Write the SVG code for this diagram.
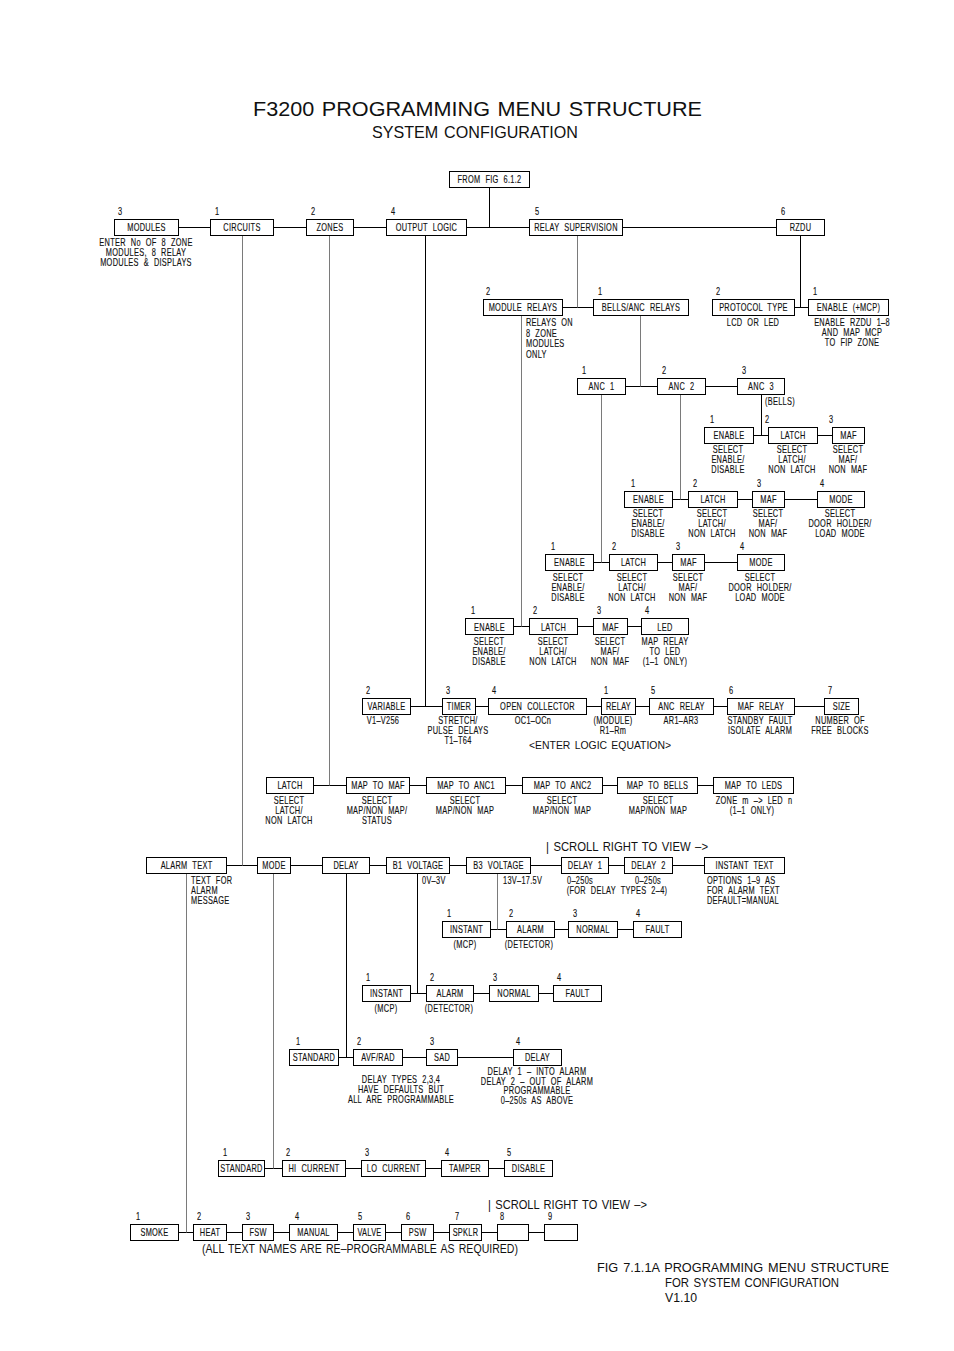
<svg xmlns="http://www.w3.org/2000/svg" width="954" height="1351" viewBox="0 0 954 1351">
<style>
text{font-family:'Liberation Sans',Arial,sans-serif;fill:#111;word-spacing:1.5px}
.b{fill:#fff;stroke:#000;stroke-width:1}
.c{fill:none;stroke:#000;stroke-width:1}
.g{fill:none;stroke:#7a7a7a;stroke-width:1}
.t,.d,.dl,.n{font-size:10px;letter-spacing:0.4px;word-spacing:3.5px;transform-box:fill-box;transform:scaleX(0.74);stroke:#111;stroke-width:0.15}
.t,.d{text-anchor:middle;transform-origin:center}
.dl,.n{transform-origin:left center}
.big{font-size:13px}
</style>
<rect width="954" height="1351" fill="#fff"/>
<g id="title">
<text x="253" y="116" font-size="21" fill="#222" textLength="449" lengthAdjust="spacingAndGlyphs">F3200 PROGRAMMING MENU STRUCTURE</text>
<text x="372" y="138" font-size="17" fill="#222" textLength="206" lengthAdjust="spacingAndGlyphs">SYSTEM CONFIGURATION</text>
</g>
<g id="connectors">
<path class="c" d="M178 227.5H776M489.5 187V227.5M425.5 235V706.5M800.5 235V307.5M794 307.5H808M562 307.5H593M625 386.5H657M705 386.5H737M761.5 394V435.5M753 435.5H768M817 435.5H832M672 499.5H688M737 499.5H752M784 499.5H817M593 562.5H609M657 562.5H672M704 562.5H737M513 626.5H529M577 626.5H593M627 626.5H641M410 706.5H824M313 785.5H713M226 865.5H704M490 929.5H633M410 993.5H553M338 1057.5H513M264 1168.5H504M178 1232.5H544M346.5 873V1057.5M417.5 873V993.5"/>
<path class="g" d="M242.5 235V865.5M329.5 235V785.5M577.5 235V307.5M521.5 315V626.5M640.5 315V386.5M601.5 394V562.5M680.5 394V499.5M186.5 873V1232.5M273.5 873V1168.5M497.5 873V929.5"/>
</g>
<g id="from_fig"><rect class="b" x="449.5" y="171.5" width="80" height="16"/><text class="t" x="489.5" y="183.5">FROM FIG 6.1.2</text></g>
<g id="modules"><rect class="b" x="114.5" y="219.5" width="64" height="16"/><text class="t" x="146.5" y="231.5">MODULES</text><text class="n" x="118" y="215">3</text>
<text class="d" x="146" y="246">ENTER No OF 8 ZONE</text><text class="d" x="146" y="256">MODULES, 8 RELAY</text><text class="d" x="146" y="266">MODULES &amp; DISPLAYS</text></g>
<g id="circuits"><rect class="b" x="210.5" y="219.5" width="63" height="16"/><text class="t" x="242" y="231.5">CIRCUITS</text><text class="n" x="215" y="215">1</text></g>
<g id="zones"><rect class="b" x="306.5" y="219.5" width="47" height="16"/><text class="t" x="330" y="231.5">ZONES</text><text class="n" x="311" y="215">2</text></g>
<g id="output_logic"><rect class="b" x="386.5" y="219.5" width="80" height="16"/><text class="t" x="426.5" y="231.5">OUTPUT LOGIC</text><text class="n" x="391" y="215">4</text></g>
<g id="relay_supervision"><rect class="b" x="529.5" y="219.5" width="93" height="16"/><text class="t" x="576" y="231.5">RELAY SUPERVISION</text><text class="n" x="535" y="215">5</text></g>
<g id="rzdu"><rect class="b" x="776.5" y="219.5" width="48" height="16"/><text class="t" x="800.5" y="231.5">RZDU</text><text class="n" x="781" y="215">6</text></g>

<g id="module_relays"><rect class="b" x="483.5" y="299.5" width="79" height="16"/><text class="t" x="523" y="311.5">MODULE RELAYS</text><text class="n" x="486" y="295">2</text>
<text class="dl" x="526" y="326">RELAYS ON</text><text class="dl" x="526" y="337">8 ZONE</text><text class="dl" x="526" y="347">MODULES</text><text class="dl" x="526" y="358">ONLY</text></g>
<g id="bells_anc_relays"><rect class="b" x="593.5" y="299.5" width="95" height="16"/><text class="t" x="641" y="311.5">BELLS/ANC RELAYS</text><text class="n" x="598" y="295">1</text></g>
<g id="protocol_type"><rect class="b" x="712.5" y="299.5" width="82" height="16"/><text class="t" x="753.5" y="311.5">PROTOCOL TYPE</text><text class="n" x="716" y="295">2</text><text class="d" x="753" y="326">LCD OR LED</text></g>
<g id="enable_mcp"><rect class="b" x="808.5" y="299.5" width="80" height="16"/><text class="t" x="848.5" y="311.5">ENABLE (+MCP)</text><text class="n" x="813" y="295">1</text>
<text class="d" x="852" y="326">ENABLE RZDU 1–8</text><text class="d" x="852" y="336">AND MAP MCP</text><text class="d" x="852" y="346">TO FIP ZONE</text></g>

<g id="anc1"><rect class="b" x="577.5" y="378.5" width="48" height="16"/><text class="t" x="601.5" y="390.5">ANC 1</text><text class="n" x="582" y="374">1</text></g>
<g id="anc2"><rect class="b" x="657.5" y="378.5" width="48" height="16"/><text class="t" x="681.5" y="390.5">ANC 2</text><text class="n" x="662" y="374">2</text></g>
<g id="anc3"><rect class="b" x="737.5" y="378.5" width="47" height="16"/><text class="t" x="761" y="390.5">ANC 3</text><text class="n" x="742" y="374">3</text><text class="dl" x="765" y="405">(BELLS)</text></g>

<g id="a3_enable"><rect class="b" x="704.5" y="427.5" width="49" height="16"/><text class="t" x="729" y="439.5">ENABLE</text><text class="n" x="710" y="423">1</text>
<text class="d" x="728" y="453">SELECT</text><text class="d" x="728" y="463">ENABLE/</text><text class="d" x="728" y="473">DISABLE</text></g>
<g id="a3_latch"><rect class="b" x="768.5" y="427.5" width="49" height="16"/><text class="t" x="793" y="439.5">LATCH</text><text class="n" x="765" y="423">2</text>
<text class="d" x="792" y="453">SELECT</text><text class="d" x="792" y="463">LATCH/</text><text class="d" x="792" y="473">NON LATCH</text></g>
<g id="a3_maf"><rect class="b" x="832.5" y="427.5" width="32" height="16"/><text class="t" x="848.5" y="439.5">MAF</text><text class="n" x="829" y="423">3</text>
<text class="d" x="848" y="453">SELECT</text><text class="d" x="848" y="463">MAF/</text><text class="d" x="848" y="473">NON MAF</text></g>

<g id="a2_enable"><rect class="b" x="624.5" y="491.5" width="48" height="16"/><text class="t" x="648.5" y="503.5">ENABLE</text><text class="n" x="631" y="487">1</text>
<text class="d" x="648" y="517">SELECT</text><text class="d" x="648" y="527">ENABLE/</text><text class="d" x="648" y="537">DISABLE</text></g>
<g id="a2_latch"><rect class="b" x="688.5" y="491.5" width="49" height="16"/><text class="t" x="713" y="503.5">LATCH</text><text class="n" x="693" y="487">2</text>
<text class="d" x="712" y="517">SELECT</text><text class="d" x="712" y="527">LATCH/</text><text class="d" x="712" y="537">NON LATCH</text></g>
<g id="a2_maf"><rect class="b" x="752.5" y="491.5" width="32" height="16"/><text class="t" x="768.5" y="503.5">MAF</text><text class="n" x="757" y="487">3</text>
<text class="d" x="768" y="517">SELECT</text><text class="d" x="768" y="527">MAF/</text><text class="d" x="768" y="537">NON MAF</text></g>
<g id="a2_mode"><rect class="b" x="817.5" y="491.5" width="47" height="16"/><text class="t" x="841" y="503.5">MODE</text><text class="n" x="820" y="487">4</text>
<text class="d" x="840" y="517">SELECT</text><text class="d" x="840" y="527">DOOR HOLDER/</text><text class="d" x="840" y="537">LOAD MODE</text></g>

<g id="a1_enable"><rect class="b" x="545.5" y="554.5" width="48" height="16"/><text class="t" x="569.5" y="566.5">ENABLE</text><text class="n" x="551" y="550">1</text>
<text class="d" x="568" y="581">SELECT</text><text class="d" x="568" y="591">ENABLE/</text><text class="d" x="568" y="601">DISABLE</text></g>
<g id="a1_latch"><rect class="b" x="609.5" y="554.5" width="48" height="16"/><text class="t" x="633.5" y="566.5">LATCH</text><text class="n" x="612" y="550">2</text>
<text class="d" x="632" y="581">SELECT</text><text class="d" x="632" y="591">LATCH/</text><text class="d" x="632" y="601">NON LATCH</text></g>
<g id="a1_maf"><rect class="b" x="672.5" y="554.5" width="32" height="16"/><text class="t" x="688.5" y="566.5">MAF</text><text class="n" x="676" y="550">3</text>
<text class="d" x="688" y="581">SELECT</text><text class="d" x="688" y="591">MAF/</text><text class="d" x="688" y="601">NON MAF</text></g>
<g id="a1_mode"><rect class="b" x="737.5" y="554.5" width="47" height="16"/><text class="t" x="761" y="566.5">MODE</text><text class="n" x="740" y="550">4</text>
<text class="d" x="760" y="581">SELECT</text><text class="d" x="760" y="591">DOOR HOLDER/</text><text class="d" x="760" y="601">LOAD MODE</text></g>

<g id="mr_enable"><rect class="b" x="465.5" y="618.5" width="48" height="16"/><text class="t" x="489.5" y="630.5">ENABLE</text><text class="n" x="471" y="614">1</text>
<text class="d" x="489" y="645">SELECT</text><text class="d" x="489" y="655">ENABLE/</text><text class="d" x="489" y="665">DISABLE</text></g>
<g id="mr_latch"><rect class="b" x="529.5" y="618.5" width="48" height="16"/><text class="t" x="553.5" y="630.5">LATCH</text><text class="n" x="533" y="614">2</text>
<text class="d" x="553" y="645">SELECT</text><text class="d" x="553" y="655">LATCH/</text><text class="d" x="553" y="665">NON LATCH</text></g>
<g id="mr_maf"><rect class="b" x="593.5" y="618.5" width="34" height="16"/><text class="t" x="610.5" y="630.5">MAF</text><text class="n" x="597" y="614">3</text>
<text class="d" x="610" y="645">SELECT</text><text class="d" x="610" y="655">MAF/</text><text class="d" x="610" y="665">NON MAF</text></g>
<g id="mr_led"><rect class="b" x="641.5" y="618.5" width="47" height="16"/><text class="t" x="665" y="630.5">LED</text><text class="n" x="645" y="614">4</text>
<text class="d" x="665" y="645">MAP RELAY</text><text class="d" x="665" y="655">TO LED</text><text class="d" x="665" y="665">(1–1 ONLY)</text></g>

<g id="variable"><rect class="b" x="362.5" y="698.5" width="48" height="16"/><text class="t" x="386.5" y="710.5">VARIABLE</text><text class="n" x="366" y="694">2</text><text class="d" x="383" y="724">V1–V256</text></g>
<g id="timer"><rect class="b" x="442.5" y="698.5" width="33" height="16"/><text class="t" x="459" y="710.5">TIMER</text><text class="n" x="446" y="694">3</text>
<text class="d" x="458" y="724">STRETCH/</text><text class="d" x="458" y="734">PULSE DELAYS</text><text class="d" x="458" y="744">T1–T64</text></g>
<g id="open_collector"><rect class="b" x="488.5" y="698.5" width="98" height="16"/><text class="t" x="537.5" y="710.5">OPEN COLLECTOR</text><text class="n" x="492" y="694">4</text><text class="d" x="533" y="724">OC1–OCn</text></g>
<g id="relay"><rect class="b" x="601.5" y="698.5" width="34" height="16"/><text class="t" x="618.5" y="710.5">RELAY</text><text class="n" x="604" y="694">1</text>
<text class="d" x="613" y="724">(MODULE)</text><text class="d" x="613" y="734">R1–Rm</text></g>
<g id="anc_relay"><rect class="b" x="649.5" y="698.5" width="64" height="16"/><text class="t" x="681.5" y="710.5">ANC RELAY</text><text class="n" x="651" y="694">5</text><text class="d" x="681" y="724">AR1–AR3</text></g>
<g id="maf_relay"><rect class="b" x="727.5" y="698.5" width="67" height="16"/><text class="t" x="761" y="710.5">MAF RELAY</text><text class="n" x="729" y="694">6</text>
<text class="d" x="760" y="724">STANDBY FAULT</text><text class="d" x="760" y="734">ISOLATE ALARM</text></g>
<g id="size"><rect class="b" x="824.5" y="698.5" width="34" height="16"/><text class="t" x="841.5" y="710.5">SIZE</text><text class="n" x="828" y="694">7</text>
<text class="d" x="840" y="724">NUMBER OF</text><text class="d" x="840" y="734">FREE BLOCKS</text></g>
<text x="529" y="749" font-size="11" textLength="142" lengthAdjust="spacingAndGlyphs">&lt;ENTER LOGIC EQUATION&gt;</text>

<g id="z_latch"><rect class="b" x="266.5" y="777.5" width="47" height="16"/><text class="t" x="290" y="789.5">LATCH</text>
<text class="d" x="289" y="804">SELECT</text><text class="d" x="289" y="814">LATCH/</text><text class="d" x="289" y="824">NON LATCH</text></g>
<g id="map_to_maf"><rect class="b" x="346.5" y="777.5" width="63" height="16"/><text class="t" x="378" y="789.5">MAP TO MAF</text>
<text class="d" x="377" y="804">SELECT</text><text class="d" x="377" y="814">MAP/NON MAP/</text><text class="d" x="377" y="824">STATUS</text></g>
<g id="map_to_anc1"><rect class="b" x="426.5" y="777.5" width="79" height="16"/><text class="t" x="466" y="789.5">MAP TO ANC1</text>
<text class="d" x="465" y="804">SELECT</text><text class="d" x="465" y="814">MAP/NON MAP</text></g>
<g id="map_to_anc2"><rect class="b" x="522.5" y="777.5" width="80" height="16"/><text class="t" x="562.5" y="789.5">MAP TO ANC2</text>
<text class="d" x="562" y="804">SELECT</text><text class="d" x="562" y="814">MAP/NON MAP</text></g>
<g id="map_to_bells"><rect class="b" x="617.5" y="777.5" width="80" height="16"/><text class="t" x="657.5" y="789.5">MAP TO BELLS</text>
<text class="d" x="658" y="804">SELECT</text><text class="d" x="658" y="814">MAP/NON MAP</text></g>
<g id="map_to_leds"><rect class="b" x="713.5" y="777.5" width="80" height="16"/><text class="t" x="753.5" y="789.5">MAP TO LEDS</text>
<text class="d" x="754" y="804">ZONE m –&gt; LED n</text><text class="d" x="752" y="814">(1–1 ONLY)</text></g>

<text class="big" x="546" y="851" textLength="162" lengthAdjust="spacingAndGlyphs">| SCROLL RIGHT TO VIEW –&gt;</text>
<g id="alarm_text"><rect class="b" x="146.5" y="857.5" width="80" height="16"/><text class="t" x="186.5" y="869.5">ALARM TEXT</text>
<text class="dl" x="191" y="884">TEXT FOR</text><text class="dl" x="191" y="894">ALARM</text><text class="dl" x="191" y="904">MESSAGE</text></g>
<g id="mode"><rect class="b" x="257.5" y="857.5" width="33" height="16"/><text class="t" x="274" y="869.5">MODE</text></g>
<g id="delay"><rect class="b" x="322.5" y="857.5" width="47" height="16"/><text class="t" x="346" y="869.5">DELAY</text></g>
<g id="b1_voltage"><rect class="b" x="386.5" y="857.5" width="63" height="16"/><text class="t" x="418" y="869.5">B1 VOLTAGE</text><text class="dl" x="422" y="884">0V–3V</text></g>
<g id="b3_voltage"><rect class="b" x="466.5" y="857.5" width="64" height="16"/><text class="t" x="498.5" y="869.5">B3 VOLTAGE</text><text class="dl" x="503" y="884">13V–17.5V</text></g>
<g id="delay1"><rect class="b" x="561.5" y="857.5" width="47" height="16"/><text class="t" x="585" y="869.5">DELAY 1</text><text class="d" x="580" y="884">0–250s</text></g>
<g id="delay2"><rect class="b" x="624.5" y="857.5" width="48" height="16"/><text class="t" x="648.5" y="869.5">DELAY 2</text><text class="d" x="648" y="884">0–250s</text></g>
<text class="d" x="617" y="894">(FOR DELAY TYPES 2–4)</text>
<g id="instant_text"><rect class="b" x="704.5" y="857.5" width="80" height="16"/><text class="t" x="744.5" y="869.5">INSTANT TEXT</text>
<text class="dl" x="707" y="884">OPTIONS 1–9 AS</text><text class="dl" x="707" y="894">FOR ALARM TEXT</text><text class="dl" x="707" y="904">DEFAULT=MANUAL</text></g>

<g id="b3_instant"><rect class="b" x="442.5" y="921.5" width="48" height="16"/><text class="t" x="466.5" y="933.5">INSTANT</text><text class="n" x="447" y="917">1</text><text class="d" x="465" y="948">(MCP)</text></g>
<g id="b3_alarm"><rect class="b" x="506.5" y="921.5" width="48" height="16"/><text class="t" x="530.5" y="933.5">ALARM</text><text class="n" x="509" y="917">2</text><text class="d" x="529" y="948">(DETECTOR)</text></g>
<g id="b3_normal"><rect class="b" x="568.5" y="921.5" width="49" height="16"/><text class="t" x="593" y="933.5">NORMAL</text><text class="n" x="573" y="917">3</text></g>
<g id="b3_fault"><rect class="b" x="633.5" y="921.5" width="48" height="16"/><text class="t" x="657.5" y="933.5">FAULT</text><text class="n" x="636" y="917">4</text></g>

<g id="b1_instant"><rect class="b" x="362.5" y="985.5" width="48" height="16"/><text class="t" x="386.5" y="997.5">INSTANT</text><text class="n" x="366" y="981">1</text><text class="d" x="386" y="1012">(MCP)</text></g>
<g id="b1_alarm"><rect class="b" x="426.5" y="985.5" width="47" height="16"/><text class="t" x="450" y="997.5">ALARM</text><text class="n" x="430" y="981">2</text><text class="d" x="449" y="1012">(DETECTOR)</text></g>
<g id="b1_normal"><rect class="b" x="489.5" y="985.5" width="49" height="16"/><text class="t" x="514" y="997.5">NORMAL</text><text class="n" x="493" y="981">3</text></g>
<g id="b1_fault"><rect class="b" x="553.5" y="985.5" width="48" height="16"/><text class="t" x="577.5" y="997.5">FAULT</text><text class="n" x="557" y="981">4</text></g>

<g id="d_standard"><rect class="b" x="289.5" y="1049.5" width="49" height="16"/><text class="t" x="314" y="1061.5">STANDARD</text><text class="n" x="296" y="1045">1</text></g>
<g id="d_avf_rad"><rect class="b" x="353.5" y="1049.5" width="49" height="16"/><text class="t" x="378" y="1061.5">AVF/RAD</text><text class="n" x="357" y="1045">2</text></g>
<g id="d_sad"><rect class="b" x="426.5" y="1049.5" width="31" height="16"/><text class="t" x="442" y="1061.5">SAD</text><text class="n" x="430" y="1045">3</text></g>
<g id="d_delay"><rect class="b" x="513.5" y="1049.5" width="48" height="16"/><text class="t" x="537.5" y="1061.5">DELAY</text><text class="n" x="516" y="1045">4</text>
<text class="d" x="537" y="1075">DELAY 1 – INTO ALARM</text><text class="d" x="537" y="1085">DELAY 2 – OUT OF ALARM</text><text class="d" x="537" y="1094">PROGRAMMABLE</text><text class="d" x="537" y="1104">0–250s AS ABOVE</text></g>
<text class="d" x="401" y="1083">DELAY TYPES 2,3,4</text><text class="d" x="401" y="1093">HAVE DEFAULTS BUT</text><text class="d" x="401" y="1103">ALL ARE PROGRAMMABLE</text>

<g id="m_standard"><rect class="b" x="218.5" y="1160.5" width="46" height="16"/><text class="t" x="241.5" y="1172.5">STANDARD</text><text class="n" x="223" y="1156">1</text></g>
<g id="m_hi_current"><rect class="b" x="282.5" y="1160.5" width="63" height="16"/><text class="t" x="314" y="1172.5">HI CURRENT</text><text class="n" x="286" y="1156">2</text></g>
<g id="m_lo_current"><rect class="b" x="361.5" y="1160.5" width="64" height="16"/><text class="t" x="393.5" y="1172.5">LO CURRENT</text><text class="n" x="365" y="1156">3</text></g>
<g id="m_tamper"><rect class="b" x="441.5" y="1160.5" width="47" height="16"/><text class="t" x="465" y="1172.5">TAMPER</text><text class="n" x="445" y="1156">4</text></g>
<g id="m_disable"><rect class="b" x="504.5" y="1160.5" width="48" height="16"/><text class="t" x="528.5" y="1172.5">DISABLE</text><text class="n" x="507" y="1156">5</text></g>

<text class="big" x="488" y="1209" textLength="159" lengthAdjust="spacingAndGlyphs">| SCROLL RIGHT TO VIEW –&gt;</text>
<g id="t_smoke"><rect class="b" x="130.5" y="1224.5" width="48" height="16"/><text class="t" x="154.5" y="1236.5">SMOKE</text><text class="n" x="136" y="1220">1</text></g>
<g id="t_heat"><rect class="b" x="193.5" y="1224.5" width="33" height="16"/><text class="t" x="210" y="1236.5">HEAT</text><text class="n" x="197" y="1220">2</text></g>
<g id="t_fsw"><rect class="b" x="242.5" y="1224.5" width="31" height="16"/><text class="t" x="258" y="1236.5">FSW</text><text class="n" x="246" y="1220">3</text></g>
<g id="t_manual"><rect class="b" x="289.5" y="1224.5" width="48" height="16"/><text class="t" x="313.5" y="1236.5">MANUAL</text><text class="n" x="295" y="1220">4</text></g>
<g id="t_valve"><rect class="b" x="353.5" y="1224.5" width="32" height="16"/><text class="t" x="369.5" y="1236.5">VALVE</text><text class="n" x="358" y="1220">5</text></g>
<g id="t_psw"><rect class="b" x="401.5" y="1224.5" width="32" height="16"/><text class="t" x="417.5" y="1236.5">PSW</text><text class="n" x="406" y="1220">6</text></g>
<g id="t_spklr"><rect class="b" x="449.5" y="1224.5" width="32" height="16"/><text class="t" x="465.5" y="1236.5">SPKLR</text><text class="n" x="455" y="1220">7</text></g>
<g id="t_8"><rect class="b" x="497.5" y="1224.5" width="31" height="16"/><text class="n" x="500" y="1220">8</text></g>
<g id="t_9"><rect class="b" x="544.5" y="1224.5" width="33" height="16"/><text class="n" x="548" y="1220">9</text></g>
<text x="202" y="1253" font-size="12.5" textLength="316" lengthAdjust="spacingAndGlyphs">(ALL TEXT NAMES ARE RE–PROGRAMMABLE AS REQUIRED)</text>

<g id="footer">
<text x="597" y="1272" font-size="13.5" textLength="292" lengthAdjust="spacingAndGlyphs">FIG 7.1.1A PROGRAMMING MENU STRUCTURE</text>
<text x="665" y="1287" font-size="13.5" textLength="174" lengthAdjust="spacingAndGlyphs">FOR SYSTEM CONFIGURATION</text>
<text x="665" y="1302" font-size="13.5" textLength="32" lengthAdjust="spacingAndGlyphs">V1.10</text>
</g>
</svg>
